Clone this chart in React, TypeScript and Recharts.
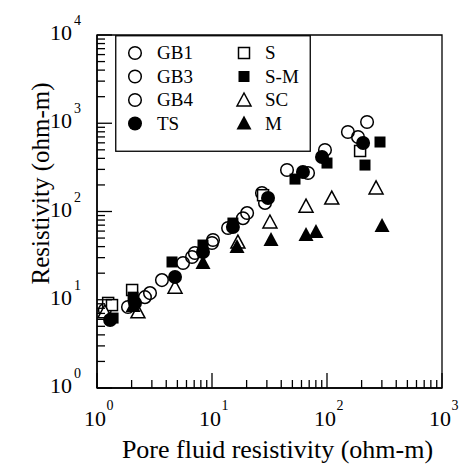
import {
  ScatterChart,
  Scatter,
  XAxis,
  YAxis,
  ReferenceArea,
  Legend,
  Label,
} from 'recharts';

// open circles (three granular soils)
const gb1 = [
  { x: 1.17, y: 7.65 }, { x: 2.61, y: 10.7 }, { x: 5.6, y: 26.1 }, { x: 10, y: 44 },
  { x: 18.6, y: 84 }, { x: 28.9, y: 125 }, { x: 96, y: 497 }, { x: 223, y: 1033 },
];
const gb3 = [
  { x: 1.86, y: 8.28 }, { x: 2.89, y: 11.9 }, { x: 6.7, y: 30.5 }, { x: 10.2, y: 47.5 },
  { x: 20.2, y: 96 }, { x: 44.9, y: 295 }, { x: 152, y: 796 },
];
const gb4 = [
  { x: 3.67, y: 16.7 }, { x: 7.1, y: 33.9 }, { x: 13.8, y: 65 }, { x: 27.2, y: 162 },
  { x: 68.4, y: 273 }, { x: 186, y: 698 },
];
const ts = [
  { x: 1.3, y: 5.9 }, { x: 2.14, y: 9.2 }, { x: 4.77, y: 18.1 }, { x: 8.35, y: 34.8 },
  { x: 15.2, y: 66.7 }, { x: 30.7, y: 142 }, { x: 61.8, y: 280 }, { x: 90.5, y: 415 },
  { x: 206, y: 597 },
];
const s = [
  { x: 1.25, y: 9.2 }, { x: 1.35, y: 8.7 }, { x: 2.02, y: 12.9 }, { x: 27.8, y: 153 },
  { x: 194, y: 485 },
];
const sm = [
  { x: 1.38, y: 6.2 }, { x: 2.06, y: 10.7 }, { x: 4.49, y: 26.8 }, { x: 8.35, y: 41.7 },
  { x: 15.2, y: 74 }, { x: 52.7, y: 233 }, { x: 100, y: 354 }, { x: 214, y: 336 },
  { x: 289, y: 613 },
];
const sc = [
  { x: 1.17, y: 7.3 }, { x: 2.27, y: 7.3 }, { x: 4.77, y: 13.9 }, { x: 16.8, y: 45 },
  { x: 31.9, y: 76 }, { x: 65.7, y: 115 }, { x: 110, y: 142 }, { x: 267, y: 185 },
];
const m = [
  { x: 2.06, y: 8.5 }, { x: 8.35, y: 26.1 }, { x: 16.5, y: 39.6 }, { x: 32.6, y: 47.5 },
  { x: 65.7, y: 54.2 }, { x: 80.2, y: 58.6 }, { x: 301, y: 68.5 },
];

const xTicks = [1, 2, 3, 4, 5, 6, 7, 8, 9, 10, 20, 30, 40, 50, 60, 70, 80, 90, 100,
  200, 300, 400, 500, 600, 700, 800, 900, 1000];
const yTicks = [1, 2, 3, 4, 5, 6, 7, 8, 9, 10, 20, 30, 40, 50, 60, 70, 80, 90, 100,
  200, 300, 400, 500, 600, 700, 800, 900, 1000, 2000, 3000, 4000, 5000, 6000, 7000,
  8000, 9000, 10000];

const legendLeft = [
  { name: 'GB1', kind: 'openCircle' },
  { name: 'GB3', kind: 'openCircle' },
  { name: 'GB4', kind: 'openCircle' },
  { name: 'TS', kind: 'filledCircle' },
];
const legendRight = [
  { name: 'S', kind: 'openSquare' },
  { name: 'S-M', kind: 'filledSquare' },
  { name: 'SC', kind: 'openTriangle' },
  { name: 'M', kind: 'filledTriangle' },
];

const FONT = '"Liberation Serif", "Times New Roman", serif';

function Marker({ kind, cx, cy }: { kind: string; cx: number; cy: number }) {
  switch (kind) {
    case 'openCircle':
      return <circle cx={cx} cy={cy} r={6.3} fill="none" stroke="#000" strokeWidth={1.5} />;
    case 'filledCircle':
      return <circle cx={cx} cy={cy} r={7} fill="#000" />;
    case 'openSquare':
      return <rect x={cx - 5.5} y={cy - 5.5} width={11} height={11} fill="#fff" stroke="#000" strokeWidth={1.5} />;
    case 'filledSquare':
      return <rect x={cx - 5.5} y={cy - 5.5} width={11} height={11} fill="#000" />;
    case 'openTriangle':
      return (
        <polygon
          points={`${cx},${cy - 7} ${cx - 7},${cy + 6} ${cx + 7},${cy + 6}`}
          fill="#fff"
          stroke="#000"
          strokeWidth={1.5}
        />
      );
    default:
      return <polygon points={`${cx},${cy - 8} ${cx - 7.5},${cy + 6} ${cx + 7.5},${cy + 6}`} fill="#000" />;
  }
}

const shapeOf = (kind: string) => (p: any) => <Marker kind={kind} cx={p.cx} cy={p.cy} />;

const isDecade = (v: number) => {
  const e = Math.log10(v);
  return Math.abs(e - Math.round(e)) < 1e-9;
};

// ticks point inward, labels only on decades
const XTick = ({ x, y, payload }: any) => {
  const v = payload.value;
  const major = isDecade(v);
  return (
    <g>
      <line x1={x} x2={x} y1={y} y2={y - (major ? 15 : 8)} stroke="#000" strokeWidth={1.3} />
      {major && (
        <text x={x - 2} y={y + 38} textAnchor="middle" fontFamily={FONT} fontSize={22} fill="#000">
          10
        </text>
      )}
      {major && (
        <text x={x + 9.5} y={y + 22} fontFamily={FONT} fontSize={14} fill="#000">
          {Math.round(Math.log10(v))}
        </text>
      )}
    </g>
  );
};

const YTick = ({ x, y, payload }: any) => {
  const v = payload.value;
  const major = isDecade(v);
  return (
    <g>
      <line x1={x} x2={x + (major ? 15 : 8)} y1={y} y2={y} stroke="#000" strokeWidth={1.3} />
      {major && (
        <text x={x - 25} y={y + 5} textAnchor="end" fontFamily={FONT} fontSize={22} fill="#000">
          10
        </text>
      )}
      {major && (
        <text x={x - 23} y={y - 10} fontFamily={FONT} fontSize={14} fill="#000">
          {Math.round(Math.log10(v))}
        </text>
      )}
    </g>
  );
};

const LegendBox = () => (
  <svg width={196} height={117} style={{ display: 'block' }}>
    <rect x={0.75} y={0.75} width={194.5} height={115.5} fill="#fff" stroke="#000" strokeWidth={1.3} />
    {legendLeft.map((e, i) => (
      <g key={e.name}>
        <Marker kind={e.kind} cx={20} cy={18 + i * 23.5} />
        <text x={42} y={24 + i * 23.5} fontFamily={FONT} fontSize={19} fill="#000">
          {e.name}
        </text>
      </g>
    ))}
    {legendRight.map((e, i) => (
      <g key={e.name}>
        <Marker kind={e.kind} cx={129} cy={18 + i * 23.5} />
        <text x={150} y={24 + i * 23.5} fontFamily={FONT} fontSize={19} fill="#000">
          {e.name}
        </text>
      </g>
    ))}
  </svg>
);

export default function App() {
  return (
    <div style={{ position: 'absolute', left: 0, top: 0, width: 459, height: 466, background: '#fff' }}>
      <ScatterChart width={459} height={466} margin={{ top: 35, right: 17, left: 8, bottom: 0 }}>
        <XAxis
          type="number"
          dataKey="x"
          scale="log"
          domain={[1, 1000]}
          ticks={xTicks}
          interval={0}
          tick={<XTick />}
          tickLine={false}
          tickSize={0}
          tickMargin={0}
          height={78}
          axisLine={{ stroke: '#000', strokeWidth: 1.5 }}
          allowDataOverflow
        >
          <Label
            content={({ viewBox }: any) => (
              <text
                x={viewBox.x + viewBox.width / 2 + 8}
                y={viewBox.y + 70}
                textAnchor="middle"
                fontFamily={FONT}
                fontSize={26}
                fill="#000"
              >
                Pore fluid resistivity (ohm-m)
              </text>
            )}
          />
        </XAxis>
        <YAxis
          type="number"
          dataKey="y"
          scale="log"
          domain={[1, 10000]}
          ticks={yTicks}
          interval={0}
          tick={<YTick />}
          tickLine={false}
          tickSize={0}
          tickMargin={0}
          width={89}
          axisLine={{ stroke: '#000', strokeWidth: 1.5 }}
          allowDataOverflow
        >
          <Label
            content={({ viewBox }: any) => {
              const cx = viewBox.x + 41;
              const cy = viewBox.y + viewBox.height / 2 - 28;
              return (
                <text
                  x={cx}
                  y={cy}
                  transform={`rotate(-90, ${cx}, ${cy})`}
                  textAnchor="middle"
                  fontFamily={FONT}
                  fontSize={25}
                  fill="#000"
                >
                  Resistivity (ohm-m)
                </text>
              );
            }}
          />
        </YAxis>
        <ReferenceArea x1={1} x2={1000} y1={1} y2={10000} fill="none" stroke="#000" strokeWidth={1.3} />
        <Legend
          layout="horizontal"
          verticalAlign="middle"
          align="center"
          wrapperStyle={{ left: 115, top: 35, width: 196, height: 117 }}
          content={() => <LegendBox />}
        />
        <Scatter name="GB1" data={gb1} shape={shapeOf('openCircle')} isAnimationActive={false} />
        <Scatter name="GB3" data={gb3} shape={shapeOf('openCircle')} isAnimationActive={false} />
        <Scatter name="GB4" data={gb4} shape={shapeOf('openCircle')} isAnimationActive={false} />
        <Scatter name="S" data={s} shape={shapeOf('openSquare')} isAnimationActive={false} />
        <Scatter name="SC" data={sc} shape={shapeOf('openTriangle')} isAnimationActive={false} />
        <Scatter name="TS" data={ts} shape={shapeOf('filledCircle')} isAnimationActive={false} />
        <Scatter name="S-M" data={sm} shape={shapeOf('filledSquare')} isAnimationActive={false} />
        <Scatter name="M" data={m} shape={shapeOf('filledTriangle')} isAnimationActive={false} />
      </ScatterChart>
    </div>
  );
}
